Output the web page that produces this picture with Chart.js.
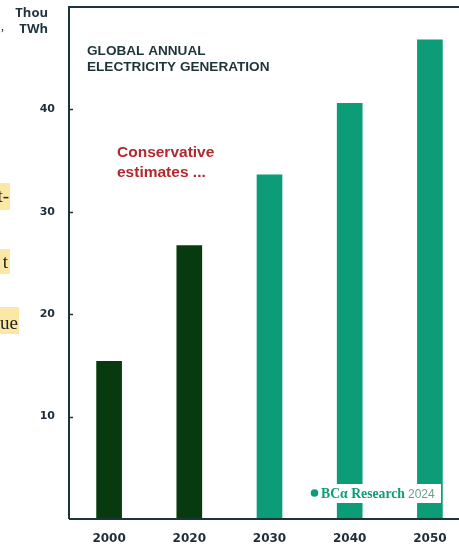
<!DOCTYPE html>
<html>
<head>
<meta charset="utf-8">
<script src="https://cdn.jsdelivr.net/npm/chart.js@4.4.1/dist/chart.umd.min.js"></script>
<style>
  html, body { margin: 0; padding: 0; background: #ffffff; overflow: hidden; }
  canvas { display: block; }
</style>
</head>
<body>
<canvas id="chart" width="470" height="546"></canvas>
<script>
// Global annual electricity generation, thousand TWh
const years = ['2000', '2020', '2030', '2040', '2050'];
const generation = [15.4, 26.7, 33.6, 40.6, 46.8];
const barColors = ['#073a0e', '#073a0e', '#0c9c77', '#0c9c77', '#0c9c77'];
const yTicks = [10, 20, 30, 40];

const INK = '#1d3438';

// frame around the plot and short inward ticks on the left axis
const framePlugin = {
  id: 'frame',
  afterDatasetsDraw(chart) {
    const { ctx, chartArea: a, scales } = chart;
    ctx.save();
    ctx.strokeStyle = INK;
    ctx.lineWidth = 2;
    ctx.beginPath();
    ctx.moveTo(a.left, a.bottom);
    ctx.lineTo(a.left, a.top);
    ctx.lineTo(a.right + 5, a.top);
    ctx.moveTo(a.left, a.bottom);
    ctx.lineTo(a.right + 5, a.bottom);
    ctx.stroke();
    ctx.lineWidth = 1.5;
    yTicks.forEach(v => {
      const y = Math.round(scales.y.getPixelForValue(v)) + 0.5;
      ctx.beginPath();
      ctx.moveTo(a.left, y);
      ctx.lineTo(a.left + 4, y);
      ctx.stroke();
    });
    ctx.restore();
  }
};

// titles, notes, source tag
const notesPlugin = {
  id: 'notes',
  afterDraw(chart) {
    const { ctx } = chart;
    ctx.save();

    // unit label
    ctx.fillStyle = '#1f3340';
    ctx.font = 'bold 13px "Open Sans", sans-serif';
    ctx.textAlign = 'right';
    ctx.textBaseline = 'alphabetic';
    ctx.fillText('Thou', 48, 17);
    ctx.fillText('TWh', 48, 33);

    // chart title
    ctx.fillStyle = INK;
    ctx.textAlign = 'left';
    ctx.font = 'bold 13.6px "Liberation Sans", Arial, sans-serif';
    ctx.fillText('GLOBAL ANNUAL', 87, 55);
    ctx.fillText('ELECTRICITY GENERATION', 87, 71);

    // note
    ctx.fillStyle = '#b3282c';
    ctx.font = 'bold 15.5px "Liberation Sans", Arial, sans-serif';
    ctx.fillText('Conservative', 117, 157);
    ctx.fillText('estimates ...', 117, 177);

    // source tag
    ctx.fillStyle = '#ffffff';
    ctx.fillRect(305, 484, 136, 19);
    ctx.fillStyle = '#0c9c77';
    ctx.beginPath();
    ctx.arc(314.5, 493, 3.8, 0, Math.PI * 2);
    ctx.fill();
    ctx.font = 'bold 14px "Liberation Serif", "DejaVu Serif", serif';
    const label = 'BCα Research';
    const lw = ctx.measureText(label).width;
    ctx.save();
    ctx.translate(321, 498);
    ctx.scale(84 / lw, 1);
    ctx.fillText(label, 0, 0);
    ctx.restore();
    ctx.fillStyle = '#6f9c8f';
    ctx.font = '12px "Liberation Sans", Arial, sans-serif';
    ctx.fillText('2024', 408, 498);

    // highlighted text fragments at the left edge
    ctx.fillStyle = '#fbe8a6';
    ctx.fillRect(0, 183, 10, 27);
    ctx.fillRect(0, 249, 10, 25);
    ctx.fillRect(0, 307, 19, 27);
    ctx.fillStyle = '#222222';
    ctx.font = '19px "Liberation Serif", "DejaVu Serif", serif';
    ctx.textAlign = 'right';
    ctx.fillText('t-', 9, 202);
    ctx.fillText('t', 8, 268);
    ctx.fillText('ue', 18, 329);
    ctx.font = '12px "Liberation Serif", serif';
    ctx.fillText(',', 4, 30);

    ctx.restore();
  }
};

new Chart(document.getElementById('chart'), {
  type: 'bar',
  data: {
    labels: years,
    datasets: [{
      data: generation,
      backgroundColor: barColors,
      borderWidth: 0,
      barThickness: 25
    }]
  },
  options: {
    responsive: false,
    animation: false,
    layout: { padding: { top: 7, right: 0, left: 0, bottom: 0 } },
    plugins: {
      legend: { display: false },
      tooltip: { enabled: false }
    },
    scales: {
      x: {
        grid: { display: false, drawTicks: false },
        border: { display: false },
        ticks: {
          color: '#1f2d3a',
          font: { family: '"DejaVu Sans", sans-serif', size: 12, weight: 'bold' },
          padding: 13
        },
        afterFit(scale) {
          scale.height = 27;
          scale.paddingLeft = 0;
          scale.paddingRight = 0;
        }
      },
      y: {
        min: 0,
        max: 50,
        grid: { display: false, drawTicks: false },
        border: { display: false },
        afterBuildTicks(scale) { scale.ticks = yTicks.map(v => ({ value: v })); },
        ticks: {
          color: '#1f2d3a',
          font: { family: '"DejaVu Sans", sans-serif', size: 11, weight: 'bold' },
          padding: 14
        },
        afterFit(scale) {
          scale.width = 69;
          scale.paddingTop = 0;
          scale.paddingBottom = 0;
        }
      }
    }
  },
  plugins: [framePlugin, notesPlugin]
});
</script>
</body>
</html>
